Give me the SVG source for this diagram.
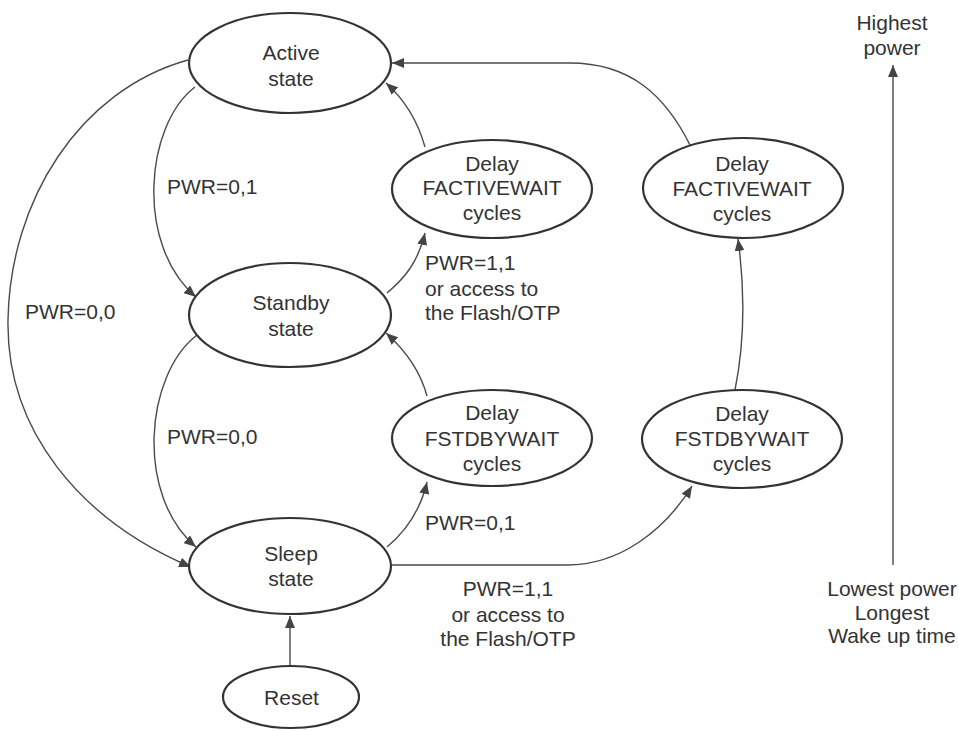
<svg xmlns="http://www.w3.org/2000/svg" width="959" height="731" viewBox="0 0 959 731">
<style>
.node{fill:#fff;stroke:#333;stroke-width:2.2}
.t{font-family:"Liberation Sans",Arial,sans-serif;font-size:21px;fill:#333;text-anchor:middle}
.l{font-family:"Liberation Sans",Arial,sans-serif;font-size:21px;fill:#333}
.e{fill:none;stroke:#4a4a4a;stroke-width:1.4}
</style>
<defs>
<marker id="ah" viewBox="0 0 12 10" refX="12" refY="5" markerWidth="12" markerHeight="10" markerUnits="userSpaceOnUse" orient="auto">
<path d="M0,0 L12,5 L0,10 z" fill="#444"/>
</marker>
</defs>
<rect width="959" height="731" fill="#fff"/>
<g id="connectors">
<path class="e" d="M188,60 C80,90 10,200 8,320 C6,430 80,520 191,567" marker-end="url(#ah)"/>
<path class="e" d="M195,87 C145,125 135,245 196,297" marker-end="url(#ah)"/>
<path class="e" d="M197,335 C145,375 135,495 196,547" marker-end="url(#ah)"/>
<path class="e" d="M387,293 C405,278 418,262 425,233" marker-end="url(#ah)"/>
<path class="e" d="M425,147 C418,122 405,100 386,83" marker-end="url(#ah)"/>
<path class="e" d="M387,547 C405,532 420,512 427,482" marker-end="url(#ah)"/>
<path class="e" d="M427,396 C420,370 405,350 386,333" marker-end="url(#ah)"/>
<path class="e" d="M392,565 L567,565 C620,565 665,530 692,486" marker-end="url(#ah)"/>
<path class="e" d="M735,390 C745,340 745,290 738,239" marker-end="url(#ah)"/>
<path class="e" d="M690,145 C665,95 630,63 570,63 L392,63" marker-end="url(#ah)"/>
<path class="e" d="M290,665 L290,616" marker-end="url(#ah)"/>
<path class="e" d="M893,565 L893,65" marker-end="url(#ah)"/>
</g>
<g id="active"><ellipse class="node" cx="290" cy="63" rx="101" ry="50"/><text class="t" x="291" y="59.5">Active</text><text class="t" x="291" y="85.5">state</text></g>
<g id="standby"><ellipse class="node" cx="290" cy="315" rx="101" ry="52"/><text class="t" x="291" y="309.5">Standby</text><text class="t" x="291" y="335.5">state</text></g>
<g id="sleep"><ellipse class="node" cx="290" cy="566" rx="101" ry="48"/><text class="t" x="291" y="560.5">Sleep</text><text class="t" x="291" y="585.5">state</text></g>
<g id="reset"><ellipse class="node" cx="291" cy="697" rx="68" ry="31"/><text class="t" x="291.5" y="704.5">Reset</text></g>
<g id="delay-factive-1"><ellipse class="node" cx="492" cy="189" rx="100" ry="49"/><text class="t" x="492" y="170.5">Delay</text><text class="t" x="492" y="194.5">FACTIVEWAIT</text><text class="t" x="492" y="219.5">cycles</text></g>
<g id="delay-fstdby-1"><ellipse class="node" cx="492" cy="438" rx="100" ry="48"/><text class="t" x="492" y="419.5">Delay</text><text class="t" x="492" y="445.5">FSTDBYWAIT</text><text class="t" x="492" y="470.5">cycles</text></g>
<g id="delay-factive-2"><ellipse class="node" cx="743" cy="188" rx="100" ry="50"/><text class="t" x="742" y="170.5">Delay</text><text class="t" x="742" y="195.5">FACTIVEWAIT</text><text class="t" x="742" y="220.5">cycles</text></g>
<g id="delay-fstdby-2"><ellipse class="node" cx="742" cy="439" rx="100" ry="49"/><text class="t" x="742" y="420.5">Delay</text><text class="t" x="742" y="445.5">FSTDBYWAIT</text><text class="t" x="742" y="470.5">cycles</text></g>
<g id="labels">
<text class="l" x="167" y="194">PWR=0,1</text>
<text class="l" x="167" y="444">PWR=0,0</text>
<text class="l" x="25" y="319">PWR=0,0</text>
<text class="l" x="425" y="269.5">PWR=1,1</text>
<text class="l" x="425" y="295.5">or access to</text>
<text class="l" x="425" y="319.5">the Flash/OTP</text>
<text class="l" x="425" y="529.5">PWR=0,1</text>
<text class="t" x="508" y="595.5">PWR=1,1</text>
<text class="t" x="508" y="622">or access to</text>
<text class="t" x="508" y="646">the Flash/OTP</text>
<text class="t" x="892" y="29.5">Highest</text>
<text class="t" x="892" y="54.5">power</text>
<text class="t" x="892" y="595.5">Lowest power</text>
<text class="t" x="892" y="619.5">Longest</text>
<text class="t" x="892" y="642.5">Wake up time</text>
</g>
</svg>
